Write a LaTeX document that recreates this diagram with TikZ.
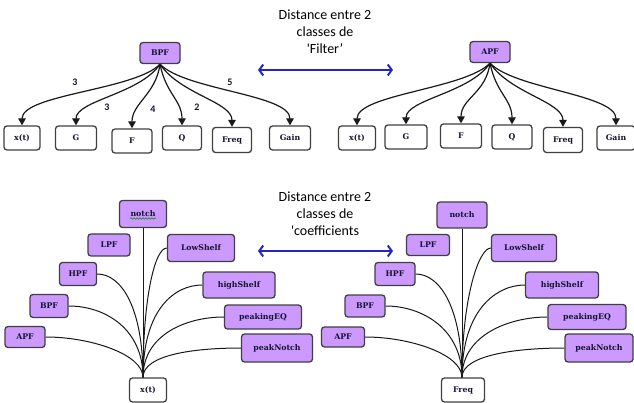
\documentclass[tikz,border=0pt]{standalone}
\usepackage{fontspec}
\usetikzlibrary{arrows.meta,decorations.pathmorphing}
\newfontfamily\titlefont{Carlito}
\newfontfamily\boxfont{DejaVu Serif}
\definecolor{lilac}{HTML}{CC99FF}
\definecolor{edgeblue}{HTML}{2424C8}
\definecolor{inkdark}{HTML}{14142E}
\tikzset{
  x=1pt, y=-1pt,
  base/.style={rounded corners=3pt, draw=black!75, line width=1.3pt,
    font=\boxfont\bfseries\fontsize{7.8}{9}\selectfont, text=inkdark, inner sep=1pt},
  pbox/.style={base, fill=lilac},
  wbox/.style={base, fill=white, minimum width=39, minimum height=24},
  tarrow/.style={draw=black!90, line width=1.2pt, -{Triangle[width=7.5pt,length=7pt]}},
  fan/.style={draw=black!90, line width=1pt},
  twoway/.style={draw=edgeblue, line width=2pt,
    {Straight Barb[length=4pt,width=11pt]}-{Straight Barb[length=4pt,width=11pt]}},
  title/.style={font=\titlefont\fontsize{14}{17}\selectfont, align=center, text=black},
  num/.style={font=\titlefont\bfseries\fontsize{10}{11}\selectfont, text=inkdark}
}
\begin{document}
\begin{tikzpicture}
\useasboundingbox (0,0) rectangle (634,403);

% ---------- class 'Filter' : BPF ----------
\node[pbox, minimum width=40, minimum height=21] (bpf) at (160,53) {BPF};
\node[wbox, minimum width=36] (lxt)  at (22,138)  {x(t)};
\node[wbox, minimum width=41] (lg)   at (76,138)  {G};
\node[wbox, minimum width=40] (lf)   at (132,141) {F};
\node[wbox] (lq)   at (182,138) {Q};
\node[wbox, minimum height=25] (lfreq) at (232,140) {Freq};
\node[wbox, minimum width=41] (lgain) at (290,138) {Gain};

\draw[tarrow] (bpf.south) .. controls +(-25,26) and +(0,-31) .. (lxt.north);
\draw[tarrow] (bpf.south) .. controls +(-20,30) and +(0,-25) .. (lg.north);
\draw[tarrow] (bpf.south) .. controls +(-4,30) and +(0,-25) .. (lf.north);
\draw[tarrow] (bpf.south) .. controls +(6,30) and +(0,-25) .. (lq.north);
\draw[tarrow] (bpf.south) .. controls +(20,30) and +(0,-25) .. (lfreq.north);
\draw[tarrow] (bpf.south) .. controls +(25,26) and +(0,-31) .. (lgain.north);

\node[num] (n1) at (75,82)  {3};
\node[num] (n2) at (107,107) {3};
\node[num] (n3) at (153,109) {4};
\node[num] (n4) at (197,107) {2};
\node[num] (n5) at (230,82)  {5};

% ---------- class 'Filter' : APF ----------
\node[pbox, minimum width=40, minimum height=21] (apf) at (490,52) {APF};
\node[wbox, minimum width=37] (rxt)  at (357,138) {x(t)};
\node[wbox, minimum width=42] (rg)   at (406,137) {G};
\node[wbox, minimum width=41] (rf)   at (461,136) {F};
\node[wbox, minimum width=40] (rq)   at (512,137) {Q};
\node[wbox, minimum height=25] (rfreq) at (563,140) {Freq};
\node[wbox, minimum width=38] (rgain) at (616,138) {Gain};

\draw[tarrow] (apf.south) .. controls +(-25,26) and +(0,-31) .. (rxt.north);
\draw[tarrow] (apf.south) .. controls +(-20,30) and +(0,-25) .. (rg.north);
\draw[tarrow] (apf.south) .. controls +(-4,30) and +(0,-25) .. (rf.north);
\draw[tarrow] (apf.south) .. controls +(6,30) and +(0,-25) .. (rq.north);
\draw[tarrow] (apf.south) .. controls +(20,30) and +(0,-25) .. (rfreq.north);
\draw[tarrow] (apf.south) .. controls +(25,26) and +(0,-31) .. (rgain.north);

% ---------- distance labels ----------
\node[title] (tfilter) at (325,32)
  {Distance entre 2\\classes de\\\textquotesingle Filter’};
\coordinate (fa) at (258,70);
\coordinate (fb) at (393,70);
\draw[twoway] (fa) -- (fb);

\node[title] (tcoef) at (325,214)
  {Distance entre 2\\classes de\\\textquotesingle coefficients};
\coordinate (ca) at (258,251);
\coordinate (cb) at (393,251);
\draw[twoway] (ca) -- (cb);

% ---------- coefficients of x(t) ----------
\node[wbox, minimum width=37] (xtL) at (148,390) {x(t)};
\node[pbox, minimum width=47, minimum height=27] (notchL) at (143,214) {notch};
\node[pbox, minimum width=42, minimum height=22] (lpfL) at (109,245) {LPF};
\node[pbox, minimum width=37, minimum height=23] (hpfL) at (78,274) {HPF};
\node[pbox, minimum width=38, minimum height=23] (bpfL) at (49,306) {BPF};
\node[pbox, minimum width=40, minimum height=21] (apfL) at (25,337) {APF};
\node[pbox, minimum width=67, minimum height=27] (lowL) at (201,248) {LowShelf};
\node[pbox, minimum width=72, minimum height=26] (highL) at (239,285) {highShelf};
\node[pbox, minimum width=77, minimum height=24] (eqL) at (263,317) {peakingEQ};
\node[pbox, minimum width=71, minimum height=28] (pnL) at (277,348) {peakNotch};
\draw[green!55!black, line width=0.5pt, decorate,
  decoration={snake, amplitude=0.8pt, segment length=3pt}]
  ([xshift=-13pt, yshift=-4.5pt]notchL.center) -- ([xshift=13pt, yshift=-4.5pt]notchL.center);

\coordinate (jl) at (notchL.south |- xtL.north);
\draw[fan] (notchL.south) -- (jl);
\draw[fan] (hpfL.east)  .. controls +(25,0) and +(0,-68) .. (jl);
\draw[fan] (bpfL.east)  .. controls +(37,0) and +(0,-48) .. (jl);
\draw[fan] (apfL.east)  .. controls +(45,0) and +(0,-23) .. (jl);
\draw[fan] (lowL.west)  .. controls +(-12,0) and +(0,-80) .. (jl);
\draw[fan] (highL.west) .. controls +(-28,0) and +(0,-68) .. (jl);
\draw[fan] (eqL.west)   .. controls +(-37,0) and +(0,-43) .. (jl);
\draw[fan] (pnL.west)   .. controls +(-45,0) and +(0,-23) .. (jl);

% ---------- coefficients of Freq ----------
\node[wbox, minimum width=43] (frR) at (463,390) {Freq};
\node[pbox, minimum width=50, minimum height=26] (notchR) at (462,215) {notch};
\node[pbox, minimum width=43, minimum height=21] (lpfR) at (428,245) {LPF};
\node[pbox, minimum width=40, minimum height=23] (hpfR) at (395,274) {HPF};
\node[pbox, minimum width=40, minimum height=22] (bpfR) at (365,306) {BPF};
\node[pbox, minimum width=43, minimum height=20] (apfR) at (343,337) {APF};
\node[pbox, minimum width=65, minimum height=27] (lowR) at (524,248) {LowShelf};
\node[pbox, minimum width=73, minimum height=26] (highR) at (562,285) {highShelf};
\node[pbox, minimum width=78, minimum height=25] (eqR) at (587,317) {peakingEQ};
\node[pbox, minimum width=68, minimum height=28] (pnR) at (599,348) {peakNotch};

\coordinate (jr) at (notchR.south |- frR.north);
\draw[fan] (notchR.south) -- (jr);
\draw[fan] (hpfR.east)  .. controls +(25,0) and +(0,-68) .. (jr);
\draw[fan] (bpfR.east)  .. controls +(37,0) and +(0,-48) .. (jr);
\draw[fan] (apfR.east)  .. controls +(45,0) and +(0,-23) .. (jr);
\draw[fan] (lowR.west)  .. controls +(-12,0) and +(0,-80) .. (jr);
\draw[fan] (highR.west) .. controls +(-28,0) and +(0,-68) .. (jr);
\draw[fan] (eqR.west)   .. controls +(-37,0) and +(0,-43) .. (jr);
\draw[fan] (pnR.west)   .. controls +(-45,0) and +(0,-23) .. (jr);
\end{tikzpicture}
\end{document}
